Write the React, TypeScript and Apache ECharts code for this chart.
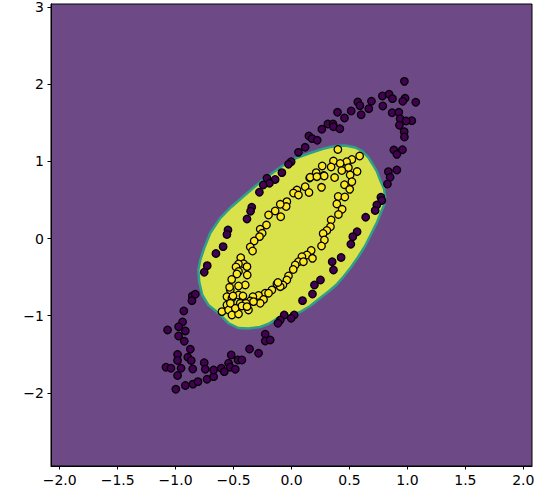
import React, { useEffect, useRef } from "react";
import * as echarts from "echarts";

const xTicks = [-2, -1.5, -1, -0.5, 0, 0.5, 1, 1.5, 2];
const yTicks = [-2, -1, 0, 1, 2, 3];
const xRange = [-2.075, 2.075];
const yRange = [-2.95, 3.043];

// outer ring (class 0)
const outerClass: number[][] = [
  [0.974, 2.04], [0.784, 1.85], [0.842, 1.872], [0.871, 1.815], [0.98, 1.82], [0.96, 1.781],
  [1.072, 1.768], [0.572, 1.772], [0.69, 1.781], [0.788, 1.72], [0.59, 1.724], [0.667, 1.685],
  [0.515, 1.655], [0.397, 1.638], [0.601, 1.607], [0.457, 1.564], [0.868, 1.633], [0.926, 1.638],
  [0.937, 1.555], [1.038, 1.529], [0.989, 1.525], [0.314, 1.486], [0.359, 1.486], [0.362, 1.451],
  [0.417, 1.425], [0.262, 1.418], [0.931, 1.47], [0.972, 1.387], [0.974, 1.318], [0.15, 1.331],
  [0.178, 1.296], [0.222, 1.275], [0.118, 1.184], [0.06, 1.119], [0.883, 1.149], [0.909, 1.093],
  [0.957, 1.153], [-0.003, 0.997], [-0.026, 0.964], [0.836, 0.868], [0.909, 0.89], [0.851, 0.795],
  [-0.083, 0.855], [-0.141, 0.767], [-0.212, 0.782], [-0.19, 0.717], [-0.244, 0.695], [-0.277, 0.601],
  [0.828, 0.708], [0.771, 0.536], [0.779, 0.494], [0.736, 0.436], [0.722, 0.364], [-0.343, 0.406],
  [-0.353, 0.355], [-0.384, 0.254], [0.64, 0.276], [-0.548, 0.112], [-0.557, 0.053], [0.566, 0.089],
  [0.529, 0.025], [0.512, -0.073], [-0.59, -0.105], [-0.652, -0.193], [0.428, -0.245], [0.351, -0.3],
  [-0.727, -0.351], [-0.753, -0.437], [0.362, -0.407], [0.25, -0.537], [0.198, -0.602], [0.181, -0.719],
  [0.095, -0.805], [-0.856, -0.744], [-0.83, -0.722], [-0.859, -0.805], [0.023, -0.991], [-0.003, -1.034],
  [-0.063, -0.991], [-0.097, -1.056], [-0.117, -1.099], [-0.929, -0.939], [-0.94, -1.082], [-0.916, -1.198],
  [-1.069, -1.185], [-0.974, -1.143], [-0.974, -1.263], [-0.925, -1.332], [-0.873, -1.436], [-0.983, -1.503],
  [-0.895, -1.54], [-0.865, -1.581], [-0.983, -1.581], [-1.083, -1.669], [-1.04, -1.682], [-0.953, -1.682],
  [-0.852, -1.691], [-0.983, -1.776], [-0.916, -1.905], [-0.85, -1.888], [-0.998, -1.955], [-0.807, -1.856],
  [-0.729, -1.825], [-0.672, -1.791], [-0.753, -1.61], [-0.744, -1.695], [-0.672, -1.704], [-0.606, -1.682],
  [-0.58, -1.726], [-0.543, -1.617], [-0.528, -1.669], [-0.52, -1.51], [-0.485, -1.695], [-0.462, -1.575],
  [-0.428, -1.575], [-0.362, -1.432], [-0.284, -1.488], [-0.227, -1.241], [-0.227, -1.328], [-0.184, -1.315],
];

// inner ring (class 1)
const innerClass: number[][] = [
  [0.4, 1.156], [0.588, 1.071], [0.521, 1.026], [0.476, 0.997], [0.362, 1.006], [0.42, 0.974],
  [0.342, 0.929], [0.265, 0.942], [0.491, 0.92], [0.566, 0.87], [0.434, 0.883], [0.213, 0.855],
  [0.278, 0.818], [0.157, 0.786], [0.372, 0.792], [0.506, 0.825], [0.521, 0.738], [0.457, 0.699],
  [0.502, 0.639], [0.259, 0.665], [0.118, 0.673], [0.151, 0.598], [0.047, 0.63], [0.017, 0.591],
  [0.06, 0.565], [0.403, 0.546], [0.46, 0.54], [-0.04, 0.479], [-0.046, 0.416], [-0.097, 0.445],
  [0.391, 0.449], [0.437, 0.38], [-0.141, 0.358], [-0.093, 0.284], [-0.198, 0.306], [0.405, 0.313],
  [0.342, 0.241], [-0.216, 0.176], [-0.27, 0.121], [-0.253, 0.069], [0.336, 0.154], [0.305, 0.105],
  [0.273, 0.066], [-0.276, 0.025], [0.284, -0.018], [0.259, -0.096], [-0.322, -0.031], [-0.356, -0.109],
  [-0.336, -0.161], [0.17, -0.154], [0.133, -0.213], [0.09, -0.235], [0.181, -0.256], [-0.438, -0.248],
  [-0.414, -0.327], [-0.457, -0.329], [-0.384, -0.364], [-0.479, -0.368], [-0.457, -0.427], [0.06, -0.3],
  [0.103, -0.3], [0.032, -0.342], [0.015, -0.401], [-0.382, -0.472], [-0.471, -0.459], [-0.026, -0.485],
  [-0.04, -0.537], [-0.516, -0.53], [-0.399, -0.602], [-0.074, -0.602], [-0.126, -0.589], [-0.097, -0.624],
  [-0.169, -0.667], [-0.227, -0.709], [-0.284, -0.738], [-0.333, -0.754], [-0.528, -0.667], [-0.557, -0.754],
  [-0.514, -0.774], [-0.457, -0.732], [-0.442, -0.839], [-0.356, -0.809], [-0.241, -0.79], [-0.557, -0.861],
  [-0.6, -0.948], [-0.543, -0.926], [-0.514, -0.991], [-0.457, -0.978], [-0.371, -0.926], [-0.393, -0.839],
  [-0.534, -0.632], [-0.457, -0.615], [-0.505, -0.744], [-0.419, -0.744], [-0.117, -0.569], [-0.485, -0.904],
  [-0.428, -0.874], [-0.384, -0.883], [-0.528, -0.839], [-0.27, -0.839], [0.282, 0.812], [0.161, 0.795],
  [0.219, 0.803], [-0.328, -0.818], [-0.198, -0.709],
];

// outline of the region predicted as class 1
const regionBoundary: number[][] = [
  [0.385, 1.201], [0.463, 1.208], [0.549, 1.182], [0.609, 1.136], [0.661, 1.058], [0.704, 0.955],
  [0.739, 0.864], [0.765, 0.76], [0.799, 0.643], [0.808, 0.54], [0.799, 0.436], [0.773, 0.345],
  [0.739, 0.215], [0.687, 0.06], [0.635, -0.096], [0.575, -0.239], [0.515, -0.368], [0.446, -0.498],
  [0.385, -0.602], [0.325, -0.68], [0.247, -0.77], [0.161, -0.874], [0.075, -0.952], [-0.011, -0.997],
  [-0.115, -1.03], [-0.201, -1.108], [-0.27, -1.147], [-0.373, -1.166], [-0.459, -1.16], [-0.546, -1.095],
  [-0.632, -0.965], [-0.718, -0.861], [-0.77, -0.732], [-0.796, -0.563], [-0.804, -0.407], [-0.787, -0.278],
  [-0.753, -0.122], [-0.701, 0.073], [-0.615, 0.267], [-0.52, 0.41], [-0.391, 0.578], [-0.27, 0.734],
  [-0.141, 0.877], [-0.054, 0.968], [0.041, 1.045], [0.161, 1.11], [0.265, 1.162], [0.334, 1.188],
];

const fmt = (v: number, d: number) => (v < 0 ? "\u2212" : "") + Math.abs(v).toFixed(d);

export default function App() {
  const ref = useRef<HTMLDivElement>(null);
  useEffect(() => {
    const chart = echarts.init(ref.current!, null, { renderer: "svg" });
    const labelStyle = { color: "#000", fontSize: 14, fontFamily: "DejaVu Sans", margin: 7 };
    chart.setOption({
      animation: false,
      backgroundColor: "#ffffff",
      grid: {
        left: 51, right: 14, top: 4, bottom: 29,
        show: true, backgroundColor: "#6d4a86", borderColor: "#000", borderWidth: 1,
      },
      xAxis: {
        type: "value", min: xRange[0], max: xRange[1],
        axisLine: { show: true, onZero: false, lineStyle: { color: "#000", width: 1 } },
        axisTick: { show: true, customValues: xTicks, length: 3.5, lineStyle: { color: "#000" } },
        axisLabel: { ...labelStyle, customValues: xTicks, formatter: (v: number) => fmt(v, 1) },
        splitLine: { show: false },
      },
      yAxis: {
        type: "value", min: yRange[0], max: yRange[1],
        axisLine: { show: true, onZero: false, lineStyle: { color: "#000", width: 1 } },
        axisTick: { show: true, customValues: yTicks, length: 3.5, lineStyle: { color: "#000" } },
        axisLabel: { ...labelStyle, customValues: yTicks, formatter: (v: number) => fmt(v, 0) },
        splitLine: { show: false },
      },
      series: [
        {
          type: "custom",
          silent: true,
          clip: true,
          data: [[0, 0]],
          renderItem: (_params: any, api: any) => {
            const pts = regionBoundary.map((p) => api.coord(p));
            return {
              type: "polygon",
              shape: { points: pts },
              style: { fill: "#d9e24b", stroke: "#2f9e8a", lineWidth: 2.5 },
            };
          },
        },
        {
          type: "scatter",
          data: outerClass,
          symbolSize: 7.5,
          itemStyle: { color: "#440154", borderColor: "#000", borderWidth: 1.3, opacity: 1 },
        },
        {
          type: "scatter",
          data: innerClass,
          symbolSize: 7.5,
          itemStyle: { color: "#fde725", borderColor: "#000", borderWidth: 1.3, opacity: 1 },
        },
      ],
    });
    return () => chart.dispose();
  }, []);
  return <div ref={ref} style={{ position: "fixed", left: 0, top: 0, width: 546, height: 495 }} />;
}
